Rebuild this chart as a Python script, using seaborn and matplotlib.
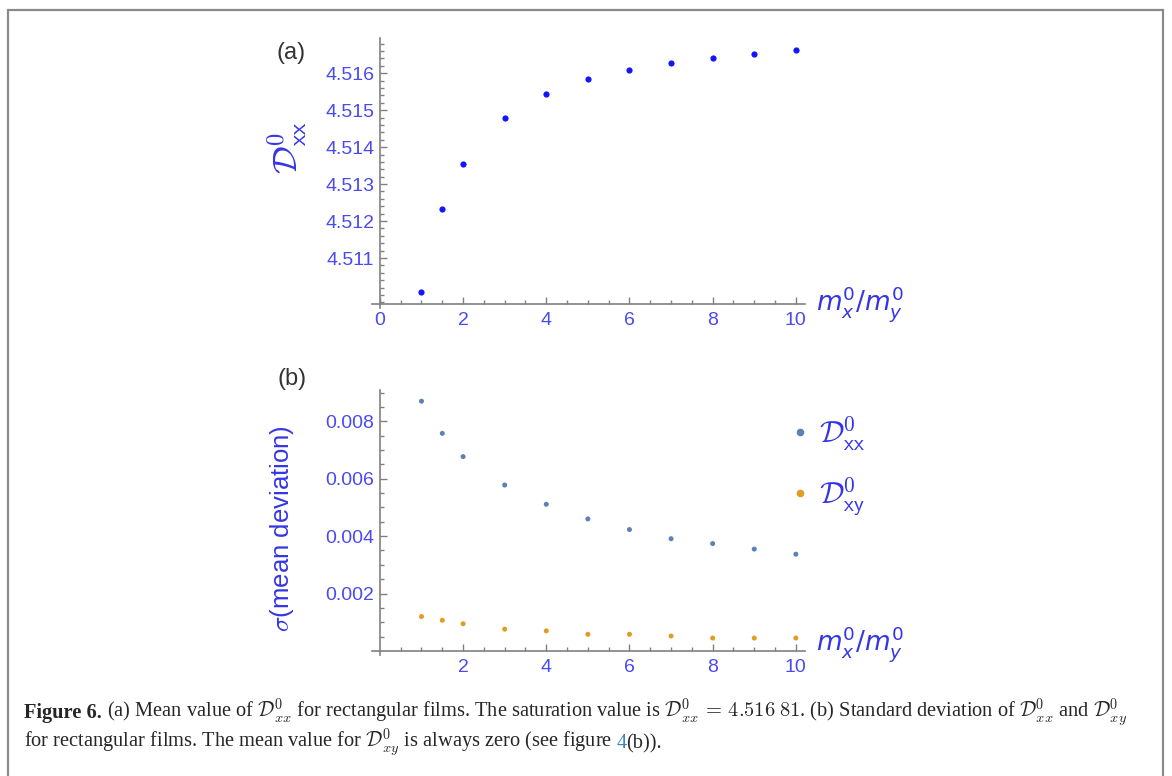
import matplotlib
matplotlib.use("Agg")
import matplotlib.pyplot as plt
import matplotlib.patches as mpatches
from matplotlib.ticker import FixedLocator
import numpy as np
import pandas as pd
import seaborn as sns

# ---------------- data ----------------
ratio = [1, 1.5, 2, 3, 4, 5, 6, 7, 8, 9, 10]
mean_dxx = [4.51008, 4.51234, 4.51354, 4.51478, 4.51543, 4.51583,
            4.51609, 4.51627, 4.51640, 4.51653, 4.51662]
std_dxx = [0.00870, 0.00758, 0.00677, 0.00578, 0.00511, 0.00460,
           0.00423, 0.00391, 0.00374, 0.00355, 0.00337]
std_dxy = [0.00120, 0.00107, 0.00095, 0.00076, 0.00070, 0.00058,
           0.00058, 0.00052, 0.00045, 0.00045, 0.00045]

top_yticks = [4.511, 4.512, 4.513, 4.514, 4.515, 4.516]
top_yticklabels = ["4.511", "4.512", "4.513", "4.514", "4.515", "4.516"]
top_xticks = [0, 2, 4, 6, 8, 10]
top_xticklabels = ["0", "2", "4", "6", "8", "10"]
bot_yticks = [0.002, 0.004, 0.006, 0.008]
bot_yticklabels = ["0.002", "0.004", "0.006", "0.008"]
bot_xticks = [2, 4, 6, 8, 10]
bot_xticklabels = ["2", "4", "6", "8", "10"]

lab_xx = r"$\mathcal{D}^{\mathsf{0}}_{\mathsf{xx}}$"
lab_xy = r"$\mathcal{D}^{\mathsf{0}}_{\mathsf{xy}}$"
components = [lab_xx, lab_xy]

# ---------------- style ----------------
sns.set_style("white")
plt.rcParams["font.family"] = ["Liberation Sans", "DejaVu Sans"]
plt.rcParams["mathtext.fontset"] = "cm"

W, H = 1172, 776
fig = plt.figure(figsize=(W / 100, H / 100), dpi=100)


def rect(l, t, r, b):
    return [l / W, 1 - b / H, (r - l) / W, (b - t) / H]


ax1 = fig.add_axes(rect(372, 38, 805, 308))
ax2 = fig.add_axes(rect(372, 390, 805, 655))

AXC = "#808080"
TICKC = "#4a4af0"
LABC = "#3535e6"

df_a = pd.DataFrame({"ratio": ratio, "D": mean_dxx})
sns.scatterplot(data=df_a, x="ratio", y="D", ax=ax1, color="#1414ff",
                s=20, linewidth=0, legend=False)

df_b = pd.DataFrame({
    "ratio": ratio + ratio,
    "sigma": std_dxx + std_dxy,
    "comp": [lab_xx] * len(ratio) + [lab_xy] * len(ratio),
})
sns.scatterplot(data=df_b, x="ratio", y="sigma", hue="comp",
                hue_order=components, palette=["#5E81B5", "#E19C24"],
                ax=ax2, s=13, linewidth=0)

ax1.set_xlim(-0.19, 10.22)
ax1.set_ylim(4.50965, 4.51695)
ax2.set_xlim(-0.19, 10.22)
ax2.set_ylim(-0.00014, 0.00909)

for ax in (ax1, ax2):
    ax.spines["top"].set_visible(False)
    ax.spines["right"].set_visible(False)
    for s in ("left", "bottom"):
        ax.spines[s].set_color(AXC)
        ax.spines[s].set_linewidth(1.2)
    ax.set_facecolor("none")
    ax.tick_params(which="both", direction="in", color=AXC, width=1.0,
                   labelcolor=TICKC, labelsize=14, bottom=True, left=True,
                   top=False, right=False)
    ax.tick_params(which="major", length=5)
    ax.tick_params(which="minor", length=3)
    ax.tick_params(axis="y", pad=4)
    ax.tick_params(axis="x", pad=6)
    ax.xaxis.set_minor_locator(FixedLocator(np.arange(0.5, 10.01, 0.5)))

ax1.spines["left"].set_position(("data", 0))
ax1.spines["bottom"].set_position(("data", 4.50976))
ax2.spines["left"].set_position(("data", 0))
ax2.spines["bottom"].set_position(("data", 0))

ax1.set_xticks(top_xticks, labels=top_xticklabels)
ax1.set_yticks(top_yticks, labels=top_yticklabels)
ax1.yaxis.set_minor_locator(FixedLocator(np.arange(4.5098, 4.51695, 0.0002)))
ax2.set_xticks(bot_xticks, labels=bot_xticklabels)
ax2.set_yticks(bot_yticks, labels=bot_yticklabels)
ax2.yaxis.set_minor_locator(FixedLocator(np.arange(0.0005, 0.00905, 0.0005)))

# axis labels
ax1.set_ylabel(lab_xx, fontsize=25, color=LABC)
ax1.yaxis.label.set_va("center")
ax1.yaxis.set_label_coords((287 - 372) / 433, (308 - 148) / 270)
ax1.set_xlabel(r"$m^{0}_{x}/m^{0}_{y}$", fontsize=19, color=LABC,
               math_fontfamily="dejavusans")
ax1.xaxis.label.set_va("center")
ax1.xaxis.set_label_coords((860 - 372) / 433, (308 - 304) / 270)

ax2.set_ylabel(r"$\sigma$(mean deviation)", fontsize=18.5, color=LABC)
ax2.yaxis.label.set_va("center")
ax2.yaxis.set_label_coords((282 - 372) / 433, (655 - 529) / 265)
ax2.set_xlabel(r"$m^{0}_{x}/m^{0}_{y}$", fontsize=19, color=LABC,
               math_fontfamily="dejavusans")
ax2.xaxis.label.set_va("center")
ax2.xaxis.set_label_coords((860 - 372) / 433, (655 - 644) / 265)

fig.text(291 / W, 1 - 53 / H, "(a)", fontsize=17, color="#333333",
         ha="center", va="center")
fig.text(292 / W, 1 - 379 / H, "(b)", fontsize=17, color="#333333",
         ha="center", va="center")

# legend
leg = ax2.legend(loc="center left", bbox_to_anchor=(795 / W, 1 - 466 / H),
                 bbox_transform=fig.transFigure, frameon=False, fontsize=22,
                 borderpad=0, borderaxespad=0, handlelength=0.35,
                 handletextpad=0.45, labelspacing=0.75, title=None)
for t in leg.get_texts():
    t.set_color(LABC)
for h in leg.legend_handles:
    try:
        h.set_sizes([26])
    except AttributeError:
        h.set_markersize(5.5)

# border
fig.add_artist(mpatches.Rectangle((8 / W, -0.05), (1163 - 8) / W, 1.05 - 10 / H,
                                  transform=fig.transFigure, fill=False,
                                  edgecolor="#8a8a8a", linewidth=1.6))

# caption
SERIF = ["Liberation Serif", "DejaVu Serif"]
line1 = [
    ("Figure 6.", dict(fontweight="bold")),
    (r"(a) Mean value of $\mathcal{D}^{0}_{xx}$ for rectangular films. The saturation value is "
     r"$\mathcal{D}^{0}_{xx}\,=\,4.516\;81$. (b) Standard deviation of $\mathcal{D}^{0}_{xx}$ and $\mathcal{D}^{0}_{xy}$",
     dict()),
]
line2 = [
    (r"for rectangular films. The mean value for $\mathcal{D}^{0}_{xy}$ is always zero (see figure",
     dict()),
    ("4", dict(color="#3a86c6", gap=0.2)),
    ("(b)).", dict(gap=0.0)),
]

renderer = fig.canvas.get_renderer()
created = []


def draw_line(segs, x0, y, fs):
    x = x0
    for i, (txt, kw) in enumerate(segs):
        kw = dict(kw)
        gap = kw.pop("gap", 0.25)
        if i > 0:
            x += gap * fs * 100 / 72
        t = fig.text(x / W, 1 - y / H, txt, fontsize=fs, family=SERIF,
                     ha="left", va="baseline", **kw)
        created.append(t)
        x = t.get_window_extent(renderer).x1
    return x


fs0 = 13.0
end = draw_line(line1, 24, 718, fs0)
for t in created:
    t.remove()
created.clear()
fs = fs0 * (1127 - 24) / (end - 24)
draw_line(line1, 24, 718, fs)
draw_line(line2, 24, 748, fs)

fig.savefig("out.png", dpi=100)
